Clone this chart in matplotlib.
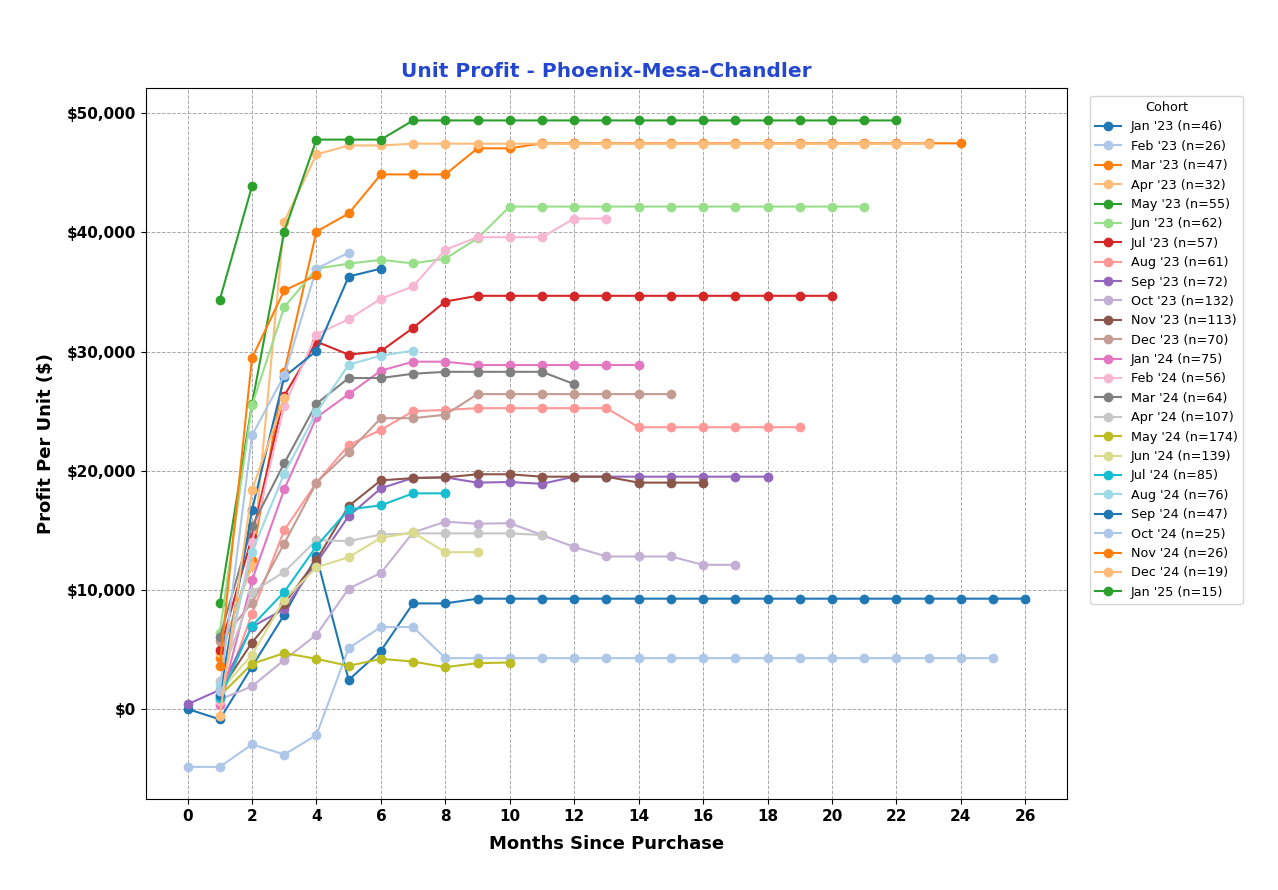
import numpy as np
import matplotlib
matplotlib.use("Agg")
import matplotlib.pyplot as plt
from matplotlib.ticker import FuncFormatter

# Cohort labels (legend order)
cohorts = ["Jan '23 (n=46)", "Feb '23 (n=26)", "Mar '23 (n=47)", "Apr '23 (n=32)",
           "May '23 (n=55)", "Jun '23 (n=62)", "Jul '23 (n=57)", "Aug '23 (n=61)",
           "Sep '23 (n=72)", "Oct '23 (n=132)", "Nov '23 (n=113)", "Dec '23 (n=70)",
           "Jan '24 (n=75)", "Feb '24 (n=56)", "Mar '24 (n=64)", "Apr '24 (n=107)",
           "May '24 (n=174)", "Jun '24 (n=139)", "Jul '24 (n=85)", "Aug '24 (n=76)",
           "Sep '24 (n=47)", "Oct '24 (n=25)", "Nov '24 (n=26)", "Dec '24 (n=19)",
           "Jan '25 (n=15)"]

# Profit per unit by month since purchase (index = month, None = no data)
jan23 = [0, -870, 3560, 7910, 12800, 2440, 4880, 8860, 8860, 9260, 9260, 9260, 9260, 9260,
         9260, 9260, 9260, 9260, 9260, 9260, 9260, 9260, 9260, 9260, 9260, 9260, 9260]
feb23 = [-4860, -4860, -2970, -3820, -2190, 5110, 6880, 6880, 4270, 4270, 4270, 4270, 4270,
         4270, 4270, 4270, 4270, 4270, 4270, 4270, 4270, 4270, 4270, 4270, 4270, 4270]
mar23 = [None, 4270, 12540, 28260, 40070, 41590, 44870, 44870, 44870, 47060, 47060, 47480,
         47480, 47480, 47480, 47480, 47480, 47480, 47480, 47480, 47480, 47480, 47480, 47480, 47480]
apr23 = [None, 4740, 12000, 40900, 46550, 47300, 47300, 47450, 47450, 47450, 47450, 47450,
         47450, 47450, 47450, 47450, 47450, 47450, 47450, 47450, 47450, 47450, 47450, 47450]
may23 = [None, 8860, 25590, 40070, 47790, 47790, 47790, 49400, 49400, 49400, 49400, 49400,
         49400, 49400, 49400, 49400, 49400, 49400, 49400, 49400, 49400, 49400, 49400]
jun23 = [None, 6420, 25500, 33730, 36960, 37380, 37700, 37400, 37800, 39500, 42170, 42170,
         42170, 42170, 42170, 42170, 42170, 42170, 42170, 42170, 42170, 42170]
jul23 = [None, 4970, 14450, 26290, 30840, 29740, 30030, 31990, 34200, 34680, 34680, 34680,
         34680, 34680, 34680, 34680, 34680, 34680, 34680, 34680, 34680]
aug23 = [None, 500, 8000, 15010, 19000, 22160, 23430, 25000, 25100, 25250, 25250, 25250,
         25250, 25250, 23650, 23650, 23650, 23650, 23650, 23650]
sep23 = [400, 1600, 6900, 8390, 12260, 16190, 18520, 19400, 19440, 19000, 19050, 18900,
         19500, 19500, 19500, 19500, 19500, 19500, 19500]
oct23 = [None, 800, 1900, 4120, 6230, 10100, 11420, 14820, 15720, 15550, 15600, 14600,
         13600, 12800, 12800, 12800, 12100, 12100]
nov23 = [None, 1500, 5580, 8840, 12500, 17030, 19190, 19380, 19440, 19700, 19700, 19500,
         19500, 19500, 19000, 19000, 19000]
dec23 = [None, 5670, 8900, 13890, 19000, 21580, 24410, 24410, 24700, 26430, 26430, 26430,
         26430, 26430, 26430, 26430]
jan24 = [None, 340, 10800, 18440, 24470, 26430, 28400, 29150, 29150, 28870, 28870, 28870,
         28870, 28870, 28870]
feb24 = [None, 700, 14000, 25450, 31430, 32720, 34430, 35470, 38550, 39600, 39600, 39600,
         41160, 41160]
mar24 = [None, 6030, 15350, 20620, 25620, 27780, 27780, 28140, 28300, 28300, 28300, 28300, 27270]
apr24 = [None, 2380, 9800, 11510, 14170, 14090, 14650, 14740, 14740, 14740, 14740, 14600]
may24 = [None, 1100, 3790, 4690, 4210, 3620, 4210, 3980, 3510, 3850, 3900]
jun24 = [None, 1500, 4550, 9180, 11890, 12740, 14370, 14820, 13160, 13160]
jul24 = [None, 930, 6990, 9820, 13660, 16750, 17090, 18100, 18100]
aug24 = [None, 2000, 13190, 19760, 24890, 28900, 29660, 30080]
sep24 = [None, 1180, 16690, 27890, 30050, 36300, 36960]
oct24 = [None, 1500, 22980, 28000, 36960, 38300]
nov24 = [None, 3620, 29460, 35130, 36390]
dec24 = [None, -590, 18380, 26070]
jan25 = [None, 34350, 43880]

series = [jan23, feb23, mar23, apr23, may23, jun23, jul23, aug23, sep23, oct23, nov23, dec23,
          jan24, feb24, mar24, apr24, may24, jun24, jul24, aug24, sep24, oct24, nov24, dec24,
          jan25]

colors = plt.get_cmap("tab20").colors

fig = plt.figure(figsize=(12.78, 8.9), dpi=100)
ax = fig.add_axes([0.114, 0.102, 0.721, 0.799])

for i, (label, vals) in enumerate(zip(cohorts, series)):
    y = np.array([np.nan if v is None else v for v in vals], dtype=float)
    x = np.arange(len(y))
    ax.plot(x, y, marker="o", markersize=6, linewidth=1.5, color=colors[i % 20], label=label)

ax.set_title("Unit Profit - Phoenix-Mesa-Chandler", fontsize=14.5, fontweight="bold",
             color="#2447d0", pad=8)
ax.set_xlabel("Months Since Purchase", fontsize=13, fontweight="bold", labelpad=8)
ax.set_ylabel("Profit Per Unit ($)", fontsize=13, fontweight="bold", labelpad=8)

ax.set_xticks(range(0, 27, 2))
ax.set_yticks(range(0, 50001, 10000))
ax.yaxis.set_major_formatter(FuncFormatter(lambda v, p: f"${v:,.0f}"))
for lbl in ax.get_xticklabels() + ax.get_yticklabels():
    lbl.set_fontweight("bold")
    lbl.set_fontsize(11)

ax.grid(True, linestyle="--", color="#aaaaaa", linewidth=0.7)

ax.legend(title="Cohort", loc="upper left", bbox_to_anchor=(1.025, 0.989), fontsize=9.2,
          title_fontsize=9.2, borderaxespad=0)

fig.savefig("out.png", dpi=100)
